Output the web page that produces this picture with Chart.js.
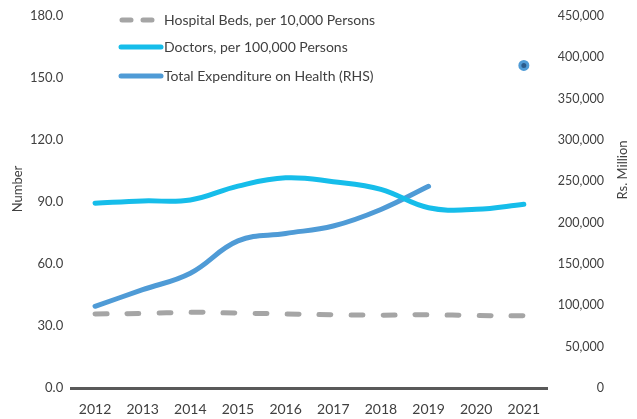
<!DOCTYPE html>
<html>
<head>
<meta charset="utf-8">
<script src="https://cdn.jsdelivr.net/npm/chart.js@4.4.0/dist/chart.umd.min.js"></script>
<style>
  html, body { margin: 0; padding: 0; background: #ffffff; }
  #wrap { width: 637px; height: 419px; }
</style>
</head>
<body>
<div id="wrap"><canvas id="grafico"></canvas></div>
<script>
const anos = ['2012', '2013', '2014', '2015', '2016', '2017', '2018', '2019', '2020', '2021'];

// Number (LHS)
const leitosHospital = [35.9, 36.1, 36.7, 36.3, 35.9, 35.5, 35.3, 35.5, 35.1, 35.0];
const medicos = [89.4, 90.5, 91.0, 97.7, 101.7, 99.8, 96.1, 87.2, 86.5, 88.9];

// Rs. Million (RHS)
const gastoSaude = [99000, 119000, 139000, 178000, 187000, 196000, 216000, 244000, null, 390000];

const labelLeitos = 'Hospital Beds, per 10,000 Persons';
const labelMedicos = 'Doctors, per 100,000 Persons';
const labelGasto = 'Total Expenditure on Health (RHS)';
const tituloEsq = 'Number';
const tituloDir = 'Rs. Million';

const fonte = 'Lato, "DejaVu Sans", sans-serif';
const corTexto = '#404040';

// legenda e titulos desenhados a mao
const legendaPlugin = {
  id: 'legendaPlugin',
  afterDraw(chart) {
    const ctx = chart.ctx;
    const ys = [20, 47, 76];
    ctx.save();
    chart.data.datasets.forEach((ds, i) => {
      const y = ys[i];
      ctx.beginPath();
      ctx.lineWidth = 5;
      ctx.lineCap = 'round';
      ctx.strokeStyle = ds.borderColor;
      ctx.setLineDash(ds.borderDash ? [9, 12] : []);
      ctx.moveTo(i === 0 ? 122 : 121, y);
      ctx.lineTo(i === 0 ? 152 : 161, y);
      ctx.stroke();
      ctx.setLineDash([]);
      ctx.fillStyle = corTexto;
      ctx.font = '14px ' + fonte;
      ctx.textBaseline = 'middle';
      ctx.textAlign = 'left';
      ctx.fillText(ds.label, 164, y);
    });

    ctx.font = '13px ' + fonte;
    ctx.textAlign = 'center';
    ctx.textBaseline = 'middle';
    ctx.translate(18, 189);
    ctx.rotate(-Math.PI / 2);
    ctx.fillText(tituloEsq, 0, 0);
    ctx.restore();

    ctx.save();
    ctx.font = '13px ' + fonte;
    ctx.fillStyle = corTexto;
    ctx.textAlign = 'center';
    ctx.textBaseline = 'middle';
    ctx.translate(623, 170);
    ctx.rotate(-Math.PI / 2);
    ctx.fillText(tituloDir, 0, 0);
    ctx.restore();
  }
};

const canvas = document.getElementById('grafico').getContext('2d');

const grafico = new Chart(canvas, {
  type: 'line',
  data: {
    labels: anos,
    datasets: [
      {
        label: labelLeitos,
        data: leitosHospital,
        borderColor: '#a5a5a5',
        borderWidth: 5,
        borderDash: [12, 20],
        borderCapStyle: 'round',
        pointRadius: 0,
        tension: 0.4,
        yAxisID: 'y'
      },
      {
        label: labelMedicos,
        data: medicos,
        borderColor: '#16bdea',
        borderWidth: 5,
        borderCapStyle: 'round',
        pointRadius: 0,
        tension: 0.4,
        yAxisID: 'y'
      },
      {
        label: labelGasto,
        data: gastoSaude,
        borderColor: '#4f9bd6',
        borderWidth: 5,
        borderCapStyle: 'round',
        pointRadius: [0, 0, 0, 0, 0, 0, 0, 0, 0, 4],
        pointBackgroundColor: '#2b5c8c',
        pointBorderColor: '#4f9bd6',
        pointBorderWidth: 3,
        spanGaps: false,
        tension: 0.4,
        yAxisID: 'y1'
      }
    ]
  },
  options: {
    responsive: true,
    maintainAspectRatio: false,
    animation: false,
    layout: {
      padding: { left: 22, right: 33, top: 5, bottom: -12 }
    },
    scales: {
      x: {
        offset: true,
        grid: { display: false, drawTicks: false },
        border: { display: true, color: '#595959', width: 3 },
        ticks: { color: corTexto, font: { family: fonte, size: 14 }, padding: 13, maxRotation: 0 }
      },
      y: {
        position: 'left',
        min: 0,
        max: 180,
        grid: { display: false, drawTicks: false },
        border: { display: false },
        ticks: {
          stepSize: 30,
          color: corTexto,
          padding: 8,
          font: { family: fonte, size: 13 },
          callback: v => v.toFixed(1)
        }
      },
      y1: {
        position: 'right',
        min: 0,
        max: 450000,
        grid: { display: false, drawTicks: false },
        border: { display: false },
        ticks: {
          stepSize: 50000,
          color: corTexto,
          padding: 5,
          crossAlign: 'far',
          font: { family: fonte, size: 12.5 },
          callback: v => v.toLocaleString('en-US')
        }
      }
    },
    plugins: {
      legend: { display: false },
      tooltip: { enabled: false }
    }
  },
  plugins: [legendaPlugin]
});
</script>
</body>
</html>
